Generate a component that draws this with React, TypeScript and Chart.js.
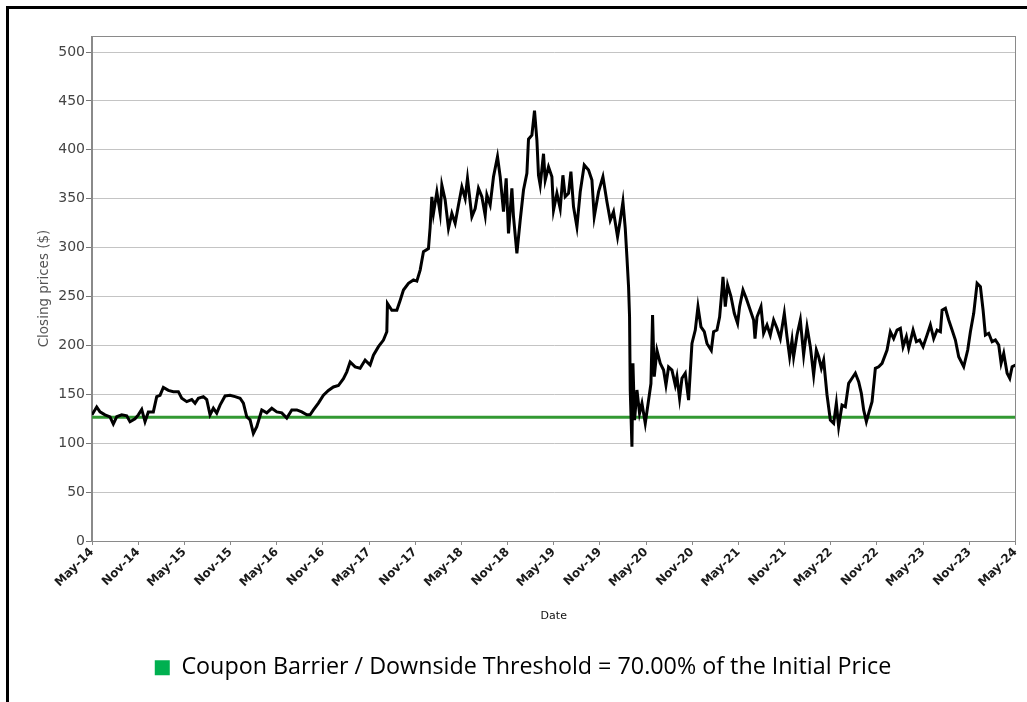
import React, { useEffect, useRef } from "react";
import { Chart, registerables } from "chart.js";

Chart.register(...registerables);

// Months elapsed since May 2014 (fractional)
const monthsSinceStart = [
  0, 0.61, 1.04, 1.69, 2.34, 2.77, 3.21, 3.86, 4.51, 4.94, 5.59, 6.02, 6.46, 6.89, 7.32, 7.97,
  8.41, 8.84, 9.27, 9.92, 10.57, 11.22, 11.66, 12.31, 12.96, 13.39, 13.82, 14.47, 14.91, 15.34,
  15.77, 16.21, 16.64, 17.29, 17.94, 18.59, 19.24, 19.67, 20.11, 20.54, 20.97, 21.41, 22.06,
  22.71, 23.36, 24.01, 24.66, 25.31, 25.96, 26.61, 27.26, 27.91, 28.34, 28.77, 29.42, 30.07,
  30.72, 31.37, 32.02, 32.67, 33.11, 33.54, 34.19, 34.84, 35.49, 36.14, 36.57, 37.22, 37.87,
  38.31, 38.39, 38.96, 39.61, 40.04,
  40.47, 41.12, 41.77, 42.21, 42.64, 43.07, 43.72, 43.94, 44.16, 44.37, 44.81, 45.24, 45.46,
  45.89, 46.32, 46.76, 47.19, 47.62, 48.06, 48.49, 48.79, 49.36, 49.79, 50.22, 50.66, 51.09,
  51.31, 51.74, 52.17, 52.69, 53.04, 53.47, 53.82, 54.12, 54.56, 54.77, 55.21, 55.64, 56.07,
  56.51, 56.72, 57.16, 57.5, 57.81, 58.02, 58.24, 58.67, 58.89, 59.32, 59.76, 59.97, 60.41,
  60.84, 61.19, 61.49, 61.92, 62.23, 62.57, 63.01, 63.44, 63.96, 64.52, 64.96, 65.26, 65.82,
  66.39, 66.91, 67.34, 67.77, 68.29, 68.64, 68.99, 69.29, 69.51, 69.72, 69.85, 69.94, 70.16,
  70.29, 70.5, 70.81, 71.15, 71.46, 71.89, 72.32, 72.63, 72.84, 73.06, 73.41, 73.84, 74.27,
  74.58, 74.92, 75.36, 75.79, 76.01, 76.35, 76.66, 77.09, 77.52, 77.96, 78.39, 78.74, 79.13,
  79.56, 79.91, 80.47, 80.77, 81.21, 81.55, 81.86, 81.99, 82.29, 82.59, 83.03, 83.46, 83.89,
  84.15, 84.59, 85.02, 85.54, 85.97, 86.15, 86.41, 86.93,
  87.27, 87.71, 88.14, 88.57, 89.01, 89.44, 89.96, 90.31, 90.65, 90.96, 91.17, 91.61, 92.04,
  92.47, 92.91, 93.34, 93.77, 94.12, 94.42, 94.77, 95.07, 95.51, 95.94, 96.37, 96.72, 97.02,
  97.46, 97.89, 98.32, 98.76, 99.19, 99.62, 99.97, 100.27, 100.62, 100.92, 101.36, 101.79,
  102.22, 102.66, 103.31, 103.74, 104.17, 104.61, 105.04, 105.39, 105.82, 106.12, 106.69,
  107.12, 107.55, 107.99, 108.51, 108.94, 109.37, 109.81, 110.24, 110.46, 110.89, 111.32,
  111.76, 112.19, 112.62, 113.27, 113.79, 114.14, 114.57, 115.01, 115.44, 115.79, 116.09,
  116.52, 116.96, 117.39, 117.82, 118.13, 118.47, 118.91, 119.25, 119.56, 120,
];

const closingPrices = [
  129, 137, 132, 129, 127, 119.6, 127, 129, 128, 122, 125, 129, 134.6, 122, 132, 132,
  147.6, 149, 157, 154, 152.7, 152.7, 146, 142.5, 144.6, 140.8, 146, 147.6, 144.6, 129,
  135.7, 130.7, 139, 148.3, 149, 147.6, 146, 141, 127, 123.9, 110, 116.9, 134,
  131, 135.7, 132, 131, 125.8, 134, 134, 132, 129, 129, 134, 141, 149,
  154, 157.5, 159, 166, 173, 183, 178, 176.6, 185, 180, 190, 198.7, 205.5,
  214, 243, 236, 236, 246,
  256.6, 263.5, 267, 265.8, 277, 295.8, 299, 321, 352, 335, 357, 335, 364,
  348.7, 319.7, 335, 325, 343.6, 362, 350.4, 370.8, 331.6, 340, 360.6, 352, 333,
  353.8, 343.6, 372.5, 393, 372.5, 336.7, 370.8, 314.6, 360.6, 331.6, 294.2, 328, 358.9,
  376, 410.9, 415, 440, 410, 374, 364, 396, 369, 382.7, 372.5, 338.4, 355.5,
  340, 374, 352, 355.5, 377.6, 341.8, 321.4, 357, 384.5, 379.3, 369, 331.6, 357,
  372.5, 347, 328, 336.7, 311, 328, 347, 320, 290, 260, 229, 154, 96.4,
  181.7, 123.7, 154.4, 130.6, 140.8, 120.3, 144, 161, 231, 168, 195, 181.7, 174.8,
  159.5, 178, 174.8, 159.5, 168, 145.9, 166.4, 171.5, 144, 202, 215.7, 239.6, 219,
  214, 202, 195, 214, 215.7, 229, 256.6, 270, 239.6, 261.8, 250, 232.8, 222.6,
  239.6, 256.6, 248, 236, 226, 207, 229, 239.6,
  212.4, 220.9, 210.6, 226, 217.5, 207, 232.8, 208.9, 188.4, 205.5, 188.4, 210.6, 226,
  190.2, 219, 198.7, 169.7, 195.3, 188.4, 176.6, 185, 149.3, 123.7, 120.3, 140.8, 116.9,
  139, 137.3, 161.2, 166.4, 171.5, 162.9, 151, 134, 122, 130.6, 142.4, 176.6,
  178.2, 181.7, 195.3, 214, 207, 215.7, 217.5, 198.7, 208.9, 197, 215.7,
  203.8, 205.5, 198.7, 210.6, 220.9, 207, 215.7, 214, 236, 237.9, 226,
  215.7, 205.5, 188.4, 178.2, 195.3, 214, 232.8, 263.5, 260, 236, 210.6,
  212.4, 203.8, 205.5, 200.4, 181.7, 191.9, 171.5, 166.4, 178.2, 180,
];

const xTickLabels = [
  "May-14", "Nov-14", "May-15", "Nov-15", "May-16", "Nov-16", "May-17", "Nov-17",
  "May-18", "Nov-18", "May-19", "Nov-19", "May-20", "Nov-20", "May-21", "Nov-21",
  "May-22", "Nov-22", "May-23", "Nov-23", "May-24",
];
const monthsPerTick = 6;
const yTickValues = [0, 50, 100, 150, 200, 250, 300, 350, 400, 450, 500];
const yAxisMax = 516.4;
const barrierLevel = 126.6;
const legendText = "Coupon Barrier / Downside Threshold = 70.00% of the Initial Price";

export default function App() {
  const canvasRef = useRef<HTMLCanvasElement>(null);

  useEffect(() => {
    if (!canvasRef.current) return;
    const lastMonth = (xTickLabels.length - 1) * monthsPerTick;
    const priceData = monthsSinceStart.map((m, i) => ({ x: m, y: closingPrices[i] }));
    const barrierData = [
      { x: 0, y: barrierLevel },
      { x: lastMonth, y: barrierLevel },
    ];

    const framePlugin = {
      id: "plotFrame",
      afterDraw(chart: any) {
        const { ctx, chartArea: a } = chart;
        ctx.save();
        ctx.strokeStyle = "#8a8a8a";
        ctx.lineWidth = 1;
        ctx.strokeRect(Math.round(a.left) - 0.5, Math.round(a.top) + 0.5, Math.round(a.right - a.left), Math.round(a.bottom - a.top));
        ctx.restore();
      },
    };

    const chart = new Chart(canvasRef.current, {
      type: "line",
      data: {
        datasets: [
          {
            label: "Closing price",
            data: priceData,
            borderColor: "#000000",
            borderWidth: 3,
            pointRadius: 0,
            tension: 0,
            fill: false,
          },
          {
            label: "Barrier",
            data: barrierData,
            borderColor: "#339933",
            borderWidth: 3,
            pointRadius: 0,
            fill: false,
          },
        ],
      },
      options: {
        animation: false,
        responsive: true,
        maintainAspectRatio: false,
        layout: { padding: { left: 30.5, right: 11.5, top: 36, bottom: 12.5 } },
        plugins: {
          tooltip: { enabled: false },
          legend: {
            display: true,
            position: "bottom",
            onClick: () => {},
            labels: {
              boxWidth: 15,
              boxHeight: 15,
              padding: 10,
              color: "#1a1a1a",
              font: { family: '"Open Sans", "Liberation Sans", sans-serif', size: 23.3 },
              generateLabels: () => [
                {
                  text: legendText,
                  fillStyle: "#00B050",
                  strokeStyle: "#00B050",
                  lineWidth: 0,
                  hidden: false,
                  datasetIndex: 1,
                } as any,
              ],
            },
          },
        },
        scales: {
          x: {
            type: "linear",
            min: 0,
            max: lastMonth,
            afterBuildTicks: (s: any) => {
              s.ticks = xTickLabels.map((_, i) => ({ value: i * monthsPerTick }));
            },
            afterFit: (s: any) => {
              s.height = 105.2;
              s.paddingLeft = 0;
              s.paddingRight = 0;
            },
            ticks: {
              autoSkip: false,
              minRotation: 45,
              maxRotation: 45,
              padding: 0,
              color: "#1a1a1a",
              font: { family: '"DejaVu Sans", sans-serif', size: 12, weight: "bold" },
              callback: (v: any) => xTickLabels[Math.round(Number(v) / monthsPerTick)],
            },
            grid: { drawOnChartArea: false, drawTicks: true, tickLength: 4, tickColor: "#888" },
            border: { display: true, color: "#8a8a8a" },
            title: {
              display: true,
              text: "Date",
              color: "#111",
              font: { family: '"DejaVu Sans", sans-serif', size: 11 },
              padding: { top: 0, bottom: 23.5 },
            },
          },
          y: {
            type: "linear",
            min: 0,
            max: yAxisMax,
            afterBuildTicks: (s: any) => {
              s.ticks = yTickValues.map((v) => ({ value: v }));
            },
            afterFit: (s: any) => {
              s.width = 61.5;
            },
            ticks: {
              padding: 1,
              color: "#444",
              font: { family: '"DejaVu Sans", sans-serif', size: 14 },
            },
            grid: { color: "#c4c4c4", tickLength: 6, tickColor: "#777" },
            border: { display: true, color: "#8a8a8a" },
            title: {
              display: true,
              text: "Closing prices ($)",
              color: "#555",
              font: { family: '"DejaVu Sans", sans-serif', size: 13.5 },
              padding: { top: 5.5, bottom: 0 },
            },
          },
        },
      },
      plugins: [framePlugin],
    });

    return () => chart.destroy();
  }, []);

  return (
    <div style={{ position: "absolute", left: 0, top: 0, width: 1027, height: 702, background: "#fff" }}>
      <div
        style={{
          position: "absolute",
          left: 6,
          top: 6,
          width: 1021,
          height: 696,
          borderTop: "3px solid #000",
          borderLeft: "3px solid #000",
          boxSizing: "border-box",
        }}
      />
      <canvas ref={canvasRef} style={{ position: "absolute", left: 0, top: 0 }} />
    </div>
  );
}
